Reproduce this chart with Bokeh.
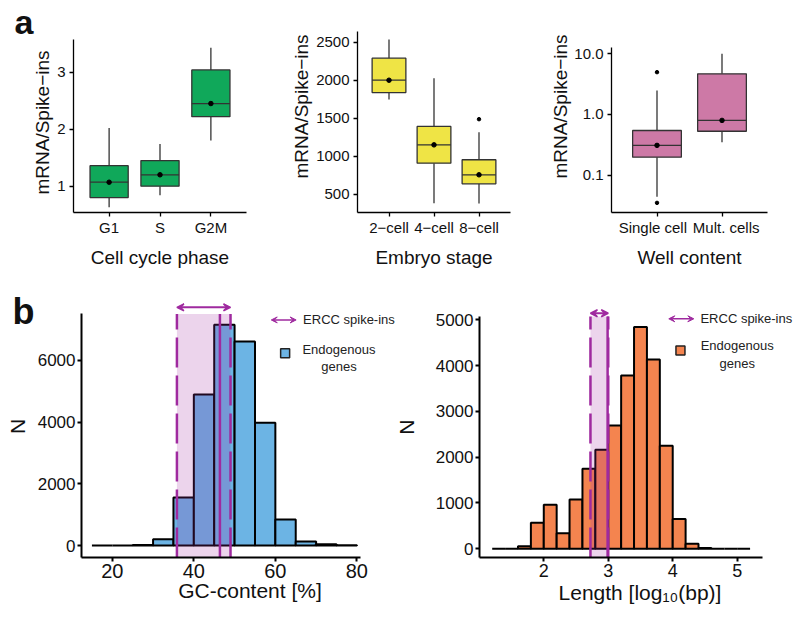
import math
from bokeh.plotting import figure
from bokeh.models import (FactorRange, Range1d, FixedTicker, NumeralTickFormatter,
                          Arrow, VeeHead)
from bokeh.layouts import column, row
from bokeh.embed import file_html
from bokeh.resources import INLINE
from bokeh.core.properties import value

FONT = "Liberation Sans"

# ---------------- data ----------------
phase_cats = ["G1", "S", "G2M"]
phase_low = [0.63, 0.84, 1.80]
phase_q1 = [0.80, 1.00, 2.22]
phase_med = [1.07, 1.20, 2.45]
phase_q3 = [1.36, 1.45, 3.04]
phase_high = [2.02, 1.74, 3.43]

stage_cats = ["2\u2212cell", "4\u2212cell", "8\u2212cell"]
stage_low = [1745, 380, 376]
stage_q1 = [1837, 908, 637]
stage_med = [2000, 1149, 755]
stage_q3 = [2290, 1392, 953]
stage_high = [2535, 2026, 1316]
stage_out_cat = ["8\u2212cell"]
stage_out_val = [1487]

well_cats = ["Single cell", "Mult. cells"]
well_low = [0.044, 0.35]
well_q1 = [0.198, 0.53]
well_med = [0.31, 0.80]
well_q3 = [0.545, 4.68]
well_high = [2.48, 10.0]
well_out_cat = ["Single cell", "Single cell"]
well_out_val = [4.98, 0.035]

gc_left = [15, 20, 25, 30, 35, 40, 45, 50, 55, 60, 65, 70, 75]
gc_right = [20, 25, 30, 35, 40, 45, 50, 55, 60, 65, 70, 75, 80]
gc_counts = [0, 0, 20, 200, 1560, 4900, 7160, 6620, 3980, 840, 130, 40, 5]
gc_ercc = [35.85, 46.4, 49.0]   # low, median, high

len_left = [1.2, 1.4, 1.6, 1.8, 2.0, 2.2, 2.4, 2.6, 2.8, 3.0,
            3.2, 3.4, 3.6, 3.8, 4.0, 4.2, 4.4, 4.6, 4.8, 5.0]
len_right = [1.4, 1.6, 1.8, 2.0, 2.2, 2.4, 2.6, 2.8, 3.0, 3.2,
             3.4, 3.6, 3.8, 4.0, 4.2, 4.4, 4.6, 4.8, 5.0, 5.2]
len_counts = [0, 0, 55, 570, 960, 340, 1075, 1745, 2165, 2690,
              3785, 4840, 4135, 2250, 650, 110, 15, 0, 0, 0]
len_ercc = [2.724, 2.99, 3.0]

PURPLE = "#9f2a9f"
LINE_GREY = "#333333"
TXT = "#111111"
YTITLE = "mRNA/Spike\u2212ins"

TOP_H, BOT_H = 288, 328
TOP_BORDERS = (0, 76)      # top, bottom
BOT_BORDERS = (2, 59)

# tick-label text for the well-content categories (nudged apart like the original)
well_disp = {"Single cell": "Single cell\u00a0\u00a0", "Mult. cells": "\u00a0\u00a0Mult. cells"}


def style(p, tick_size, label_size, axis_w=1.3):
    p.toolbar_location = None
    p.outline_line_color = None
    p.xgrid.visible = False
    p.ygrid.visible = False
    for ax in p.axis:
        ax.axis_line_color = "black"
        ax.axis_line_width = axis_w
        ax.major_tick_line_color = "black"
        ax.major_tick_line_width = axis_w
        ax.major_tick_out = 4
        ax.major_tick_in = 0
        ax.minor_tick_line_color = None
        ax.major_label_text_font = FONT
        ax.major_label_text_color = TXT
        ax.axis_label_text_font = FONT
        ax.axis_label_text_font_style = "normal"
        ax.axis_label_text_color = TXT
        ax.axis_label_text_font_size = label_size
    p.xaxis.major_label_text_font_size = tick_size[0]
    p.yaxis.major_label_text_font_size = tick_size[1]


def strip(width, frame_h, borders):
    """Axis-less panel whose data units are pixels up from the frame bottom."""
    p = figure(width=width, height=frame_h + borders[0] + borders[1], output_backend="svg",
               toolbar_location=None, title=None,
               x_range=Range1d(0, width), y_range=Range1d(0, frame_h),
               min_border_left=0, min_border_right=0,
               min_border_top=borders[0], min_border_bottom=borders[1])
    p.axis.visible = False
    p.grid.visible = False
    p.outline_line_color = None
    return p


def boxplot(cats, low, q1, med, q3, high, out_cat, out_val, color, y_rng, y_top, ticks,
            xlabel, ylabel, width, lr, ylab_standoff, log=False, fmt=None):
    p = figure(width=width, height=TOP_H, output_backend="svg", toolbar_location=None,
               title=None,
               x_range=FactorRange(*dict.fromkeys(cats), range_padding=0.2,
                                   range_padding_units="absolute"),
               y_range=Range1d(*y_rng), y_axis_type="log" if log else "linear",
               min_border_left=lr[0], min_border_right=lr[1],
               min_border_top=TOP_BORDERS[0], min_border_bottom=TOP_BORDERS[1])
    p.segment(x0=cats, y0=low, x1=cats, y1=q1, line_color=LINE_GREY, line_width=1.3)
    p.segment(x0=cats, y0=q3, x1=cats, y1=high, line_color=LINE_GREY, line_width=1.3)
    p.vbar(x=cats, bottom=q1, top=q3, width=0.75, fill_color=color,
           line_color=LINE_GREY, line_width=1.3)
    p.vbar(x=cats, bottom=med, top=med, width=0.75, fill_alpha=0,
           line_color=LINE_GREY, line_width=1.3)
    p.scatter(x=cats, y=med, size=4.5, color="black")
    if out_cat:
        p.scatter(x=out_cat, y=out_val, size=3.5, color="black")
    style(p, ("15px", "15px"), "19px")
    p.yaxis.ticker = FixedTicker(ticks=ticks)
    p.yaxis.bounds = (y_rng[0], y_top)
    if fmt is not None:
        p.yaxis.formatter = fmt
    if ylabel:
        p.yaxis.axis_label = ylabel
        p.yaxis.axis_label_standoff = ylab_standoff
    p.xaxis.axis_label = xlabel
    p.yaxis.major_label_standoff = 4
    p.xaxis.major_label_standoff = 2
    p.xaxis.axis_label_standoff = 8
    return p


FRAME_TOP_H = TOP_H - TOP_BORDERS[0] - TOP_BORDERS[1]
# strip with letter "a" and the first panel's rotated y title
fa = strip(54, FRAME_TOP_H, TOP_BORDERS)
fa.text(x=[14], y=[FRAME_TOP_H - 21], text=["a"], text_font=value(FONT),
        text_font_style="bold", text_font_size="34px", text_color=TXT,
        text_baseline="middle")
fa.text(x=[42], y=[FRAME_TOP_H - 122], text=[YTITLE], text_font=value(FONT),
        text_font_size="19px", text_color=TXT, text_baseline="middle",
        text_align="center", angle=math.pi / 2)

a1 = boxplot(phase_cats, phase_low, phase_q1, phase_med, phase_q3, phase_high, [], [],
             "#10a85a", (0.5386, 4.258), 3.574, [1, 2, 3], "Cell cycle phase", None,
             214, (19, 22), 0)
a2 = boxplot(stage_cats, stage_low, stage_q1, stage_med, stage_q3, stage_high,
             stage_out_cat, stage_out_val, "#efe445", (259, 3049), 2645,
             [500, 1000, 1500, 2000, 2500], "Embryo stage", YTITLE, 260, (89, 18), 1)
a3 = boxplot([well_disp[c] for c in well_cats], well_low, well_q1, well_med, well_q3,
             well_high, [well_disp[c] for c in well_out_cat], well_out_val, "#cd79a6",
             (0.02429, 75.5), 12.8, [0.1, 1, 10], "Well content", YTITLE, 272, (83, 33), 0,
             log=True, fmt=NumeralTickFormatter(format="0.0"))


def histo(left, right, counts, ercc, color, x_rng, y_rng, xb, yb, xticks, yticks,
          xlabel, width, lr, arrow_y, leg, tick_size, xstand):
    p = figure(width=width, height=BOT_H, output_backend="svg", toolbar_location=None,
               title=None, x_range=Range1d(*x_rng), y_range=Range1d(*y_rng),
               min_border_left=lr[0], min_border_right=lr[1],
               min_border_top=BOT_BORDERS[0], min_border_bottom=BOT_BORDERS[1])
    p.quad(left=left, right=right, bottom=0, top=counts, fill_color=color,
           line_color="black", line_width=2)
    lo, med, hi = ercc
    p.quad(left=[lo], right=[hi], bottom=[yb[0]], top=[yb[1]], fill_color=PURPLE,
           fill_alpha=0.2, line_color=None)
    p.segment(x0=[lo, hi], y0=[yb[0]] * 2, x1=[lo, hi], y1=[yb[1]] * 2,
              line_color=PURPLE, line_width=2.5, line_dash="30 8")
    p.segment(x0=[med], y0=[yb[0]], x1=[med], y1=[yb[1]], line_color=PURPLE, line_width=2.5)
    p.add_layout(Arrow(x_start=lo, x_end=hi, y_start=arrow_y, y_end=arrow_y,
                       line_color=PURPLE, line_width=2,
                       start=VeeHead(size=7, line_color=PURPLE, fill_color=PURPLE, line_width=1.5),
                       end=VeeHead(size=7, line_color=PURPLE, fill_color=PURPLE, line_width=1.5)))
    # legend
    ax0, ax1, ay, tx, sqx, sqy, ex, ey1, ey2 = leg
    p.add_layout(Arrow(x_start=ax0, x_end=ax1, y_start=ay, y_end=ay,
                       line_color=PURPLE, line_width=1.5,
                       start=VeeHead(size=6, line_color=PURPLE, fill_color=PURPLE, line_width=1),
                       end=VeeHead(size=6, line_color=PURPLE, fill_color=PURPLE, line_width=1)))
    p.text(x=[tx], y=[ay], text=["ERCC spike-ins"], text_font=value(FONT),
           text_font_size="13px", text_baseline="middle", text_align="left",
           text_color="#222222")
    p.scatter(x=[sqx], y=[sqy], marker="square", size=9, fill_color=color,
              line_color="#222222", line_width=1.5)
    p.text(x=[ex, ex], y=[ey1, ey2], text=["Endogenous", "genes"], text_font=value(FONT),
           text_font_size="13px", text_baseline="middle", text_align="center",
           text_color="#222222")
    style(p, tick_size, "21px", axis_w=2)
    p.xaxis.bounds = xb
    p.yaxis.bounds = yb
    p.xaxis.ticker = FixedTicker(ticks=xticks)
    p.yaxis.ticker = FixedTicker(ticks=yticks)
    p.xaxis.axis_label = xlabel
    p.yaxis.major_label_standoff = 2
    p.xaxis.major_label_standoff = xstand[0]
    p.xaxis.axis_label_standoff = xstand[1]
    return p


FRAME_BOT_H = BOT_H - BOT_BORDERS[0] - BOT_BORDERS[1]
FRAME_BOT_Y0 = TOP_H + BOT_H - BOT_BORDERS[1]     # window y of the frame bottom
# strip with letter "b" and the left histogram's rotated y title
fb = strip(34, FRAME_BOT_H, BOT_BORDERS)
fb.text(x=[12], y=[FRAME_BOT_Y0 - 310.5], text=["b"], text_font=value(FONT),
        text_font_style="bold", text_font_size="36px", text_color=TXT,
        text_baseline="middle")
fb.text(x=[17], y=[FRAME_BOT_Y0 - 426], text=["N"], text_font=value(FONT),
        text_font_size="21px", text_color=TXT, text_baseline="middle",
        text_align="center", angle=math.pi / 2)

b1 = histo(gc_left, gc_right, gc_counts, gc_ercc, "#6cb4e4",
           (12.44, 95.12), (-389, 8270), (12.44, 81.0), (-389, 7509),
           [20, 40, 60, 80], [0, 2000, 4000, 6000], "GC-content [%]",
           384, (45, 0), 7723,
           (59.0, 65.1, 7315, 66.8, 62.4, 6232, 75.6, 6342, 5801), ("20px", "17px"),
           (2, -2))
# rotated y title of the right-hand histogram (sits in the gap between the panels)
b1.text(x=[92.1], y=[3836], text=["N"], text_font=value(FONT), text_font_size="21px",
        text_color=TXT, text_baseline="middle", text_align="center", angle=math.pi / 2)

b2 = histo(len_left, len_right, len_counts, len_ercc, "#f4844f",
           (1.003, 5.982), (-190, 5639), (1.003, 5.388), (-190, 5071),
           [2, 3, 4, 5], [0, 1000, 2000, 3000, 4000, 5000], "Length [log\u2081\u2080(bp)]",
           382, (61, 0), 5143,
           (3.939, 4.327, 5021, 4.43, 4.12, 4329, 5.0, 4438, 4052), ("18px", "17px"),
           (2, 1))

layout = column(row(fa, a1, a2, a3), row(fb, b1, b2))
open("out.html", "w").write(file_html(layout, INLINE))
